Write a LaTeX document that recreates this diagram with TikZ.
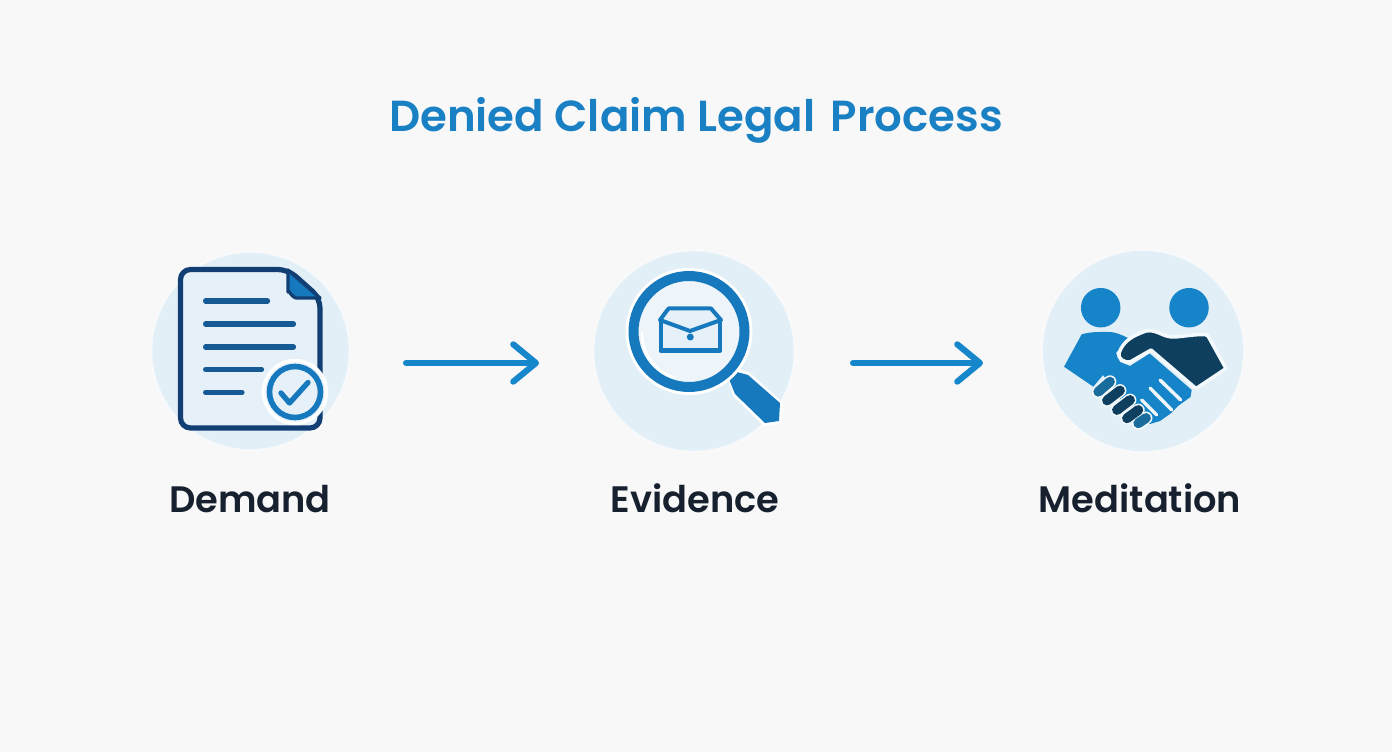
\documentclass[tikz,border=0pt]{standalone}
\usepackage{fontspec}
\setmainfont{Poppins SemiBold}
\usetikzlibrary{arrows.meta}
\definecolor{bgc}{HTML}{F8F8F8}
\definecolor{disc}{HTML}{E3EFF7}
\definecolor{pagec}{HTML}{E6F0F8}
\definecolor{navy}{HTML}{123F73}
\definecolor{lineb}{HTML}{155A94}
\definecolor{midb}{HTML}{1679BE}
\definecolor{handc}{HTML}{1584C8}
\definecolor{flow}{HTML}{1787CC}
\definecolor{titlec}{HTML}{1A80C4}
\definecolor{txt}{HTML}{16202E}
\definecolor{darkh}{HTML}{0F3F5E}
\definecolor{fing}{HTML}{1A6C9C}
\tikzset{
  x=0.75pt,y=-0.75pt,
  discn/.style={circle,fill=disc,draw=white,draw opacity=.5,line width=1.5pt,minimum size=#1*0.75pt,inner sep=0pt},
  lbl/.style={text=txt,font=\fontsize{27.6pt}{30pt}\selectfont,anchor=base},
  flowarrow/.style={draw=flow,line width=4.6pt,line cap=round,-{Straight Barb[length=17pt,width=28pt,line width=4.6pt,round]}},
  txtline/.style={draw=lineb,line width=3.9pt,line cap=round},
  capsule/.style={line width=7.4pt,line cap=round},
  sepline/.style={draw=disc!60!white,line width=2.6pt,line cap=round},
}
\begin{document}
\begin{tikzpicture}
\useasboundingbox (0,0) rectangle (1392,752);
\fill[bgc] (0,0) rectangle (1392,752);
\node[anchor=base,text=titlec,font=\fontsize{32.6pt}{36pt}\selectfont] (title) at (696,131.5) {Denied Claim Legal\hspace{0.12em} Process};

% discs
\node[discn=198] (d1) at (250.5,351) {};
\node[discn=201] (d2) at (694,351) {};
\node[discn=202] (d3) at (1143,351) {};

% document icon
\draw[navy,fill=pagec,line width=3.9pt,line join=round,rounded corners=7.5pt]
  (180.5,269.5) -- (288,269.5) -- (320,298) -- (320,428) -- (180.5,428) -- cycle;
\fill[midb,draw=navy,line width=2.5pt,line join=round] (288,270) -- (320,298) -- (296,298) to[out=180,in=90] (288,292) -- cycle;
\draw[txtline] (205.6,301) -- (267.5,301);
\draw[txtline] (205.6,324) -- (293.5,324);
\draw[txtline] (205.6,347) -- (293.5,347);
\draw[txtline] (205.6,369.5) -- (261.5,369.5);
\draw[txtline] (205.6,392.5) -- (242,392.5);
\node[circle,fill=pagec,draw=white,line width=2.5pt,minimum size=63*0.75pt,inner sep=0pt] (chkbg) at (295,392) {};
\node[circle,draw=midb,line width=4.2pt,minimum size=51*0.75pt,inner sep=0pt] (chk) at (295,392) {};
\draw[midb,line width=4pt,line cap=round,line join=round] (281,393) -- (289.5,403) -- (308,382.5);

% magnifier
\fill[white] (728,378) -- (738,369) -- (749,372) -- (783,403) -- (782,424) -- (764,426) -- (733,396) -- cycle;
\fill[midb] (729,379) -- (737,372) -- (748,375) -- (780,403) -- (779,421) -- (765,423) -- (735,394) -- cycle;
\node[circle,fill=white,minimum size=127*0.75pt,inner sep=0pt] (lenshalo) at (689,331.5) {};
\node[circle,fill=pagec!70!white,draw=midb,line width=7.5pt,minimum size=111*0.75pt,inner sep=0pt] (lens) at (689,331.5) {};
\draw[white,line width=2pt,line cap=round] (642,333) arc[start angle=180,end angle=110,radius=47];
\fill[pagec] (660.5,319) rectangle (720,351);
\draw[midb,line width=3pt,line join=round]
  (660.5,319) -- (660.5,350.5) -- (720,350.5) -- (720,319);
\draw[midb,line width=3pt,line join=round,line cap=round,fill=pagec]
  (660,320) -- (668.5,308.5) -- (711,308.5) -- (721,320) -- (690,331) -- cycle;
\fill[midb] (658.5,347.5) rectangle (721.5,352);
\node[circle,fill=midb,minimum size=7*0.75pt,inner sep=0pt] (clasp) at (690.3,337) {};

% handshake
\node[circle,fill=handc,minimum size=39.5*0.75pt,inner sep=0pt] (h1) at (1100.7,307.7) {};
\node[circle,fill=handc,minimum size=39.5*0.75pt,inner sep=0pt] (h2) at (1189,307.7) {};
\fill[handc] (1081.7,334.3) to[out=15,in=180] (1108,332) to[out=0,in=155] (1128,338)
  -- (1116,353) -- (1120,362) -- (1130,366) -- (1149.7,353.5)
  -- (1191.7,390) -- (1190.5,397) -- (1178,406) -- (1170,414)
  -- (1160,421) -- (1150,424) -- (1136,420)
  -- (1103,375) -- (1093.3,386.7) -- (1064,366.7) -- cycle;
% fingers separators on blue hand
\draw[sepline] (1160,380) -- (1180.7,400);
\draw[sepline] (1150,388) -- (1171.7,410);
\draw[sepline] (1141.7,400) -- (1156.7,415);
% right hand fingers
\foreach \xa/\ya/\xb/\yb/\c in {1098.3/391.7/1110/381.7/fing,1107/400.5/1120/390.5/darkh,1117/410/1130/400/darkh,1127/418.3/1138.3/410/darkh,1138.3/423.3/1146/418/fing}{
  \draw[disc!40!white,line width=9.6pt,line cap=round] (\xa,\ya) -- (\xb,\yb);
}
\foreach \xa/\ya/\xb/\yb/\c in {1098.3/391.7/1110/381.7/fing,1107/400.5/1120/390.5/darkh,1117/410/1130/400/darkh,1127/418.3/1138.3/410/darkh,1138.3/423.3/1146/418/fing}{
  \draw[\c,capsule] (\xa,\ya) -- (\xb,\yb);
}
% dark hand
\draw[disc!40!white,line width=2.6pt,line join=round,fill=darkh]
  (1146,331) to[out=10,in=185] (1175,337) to[out=5,in=180] (1205,334.5) to[out=0,in=120] (1208,336)
  -- (1226,368.5) -- (1196,388.5) -- (1151,350) -- (1130,362)
  to[out=190,in=250] (1119,353) to[out=70,in=200] (1146,331) -- cycle;

% arrows
\coordinate (a1s) at (406,363);
\coordinate (a1e) at (539,363);
\coordinate (a2s) at (853,363);
\coordinate (a2e) at (983,363);
\draw[flowarrow] (a1s) -- (a1e);
\draw[flowarrow] (a2s) -- (a2e);

% labels
\node[lbl] (l1) at (250,512) {Demand};
\node[lbl] (l2) at (695,512) {Evidence};
\node[lbl] (l3) at (1140,512) {Meditation};
\end{tikzpicture}
\end{document}
